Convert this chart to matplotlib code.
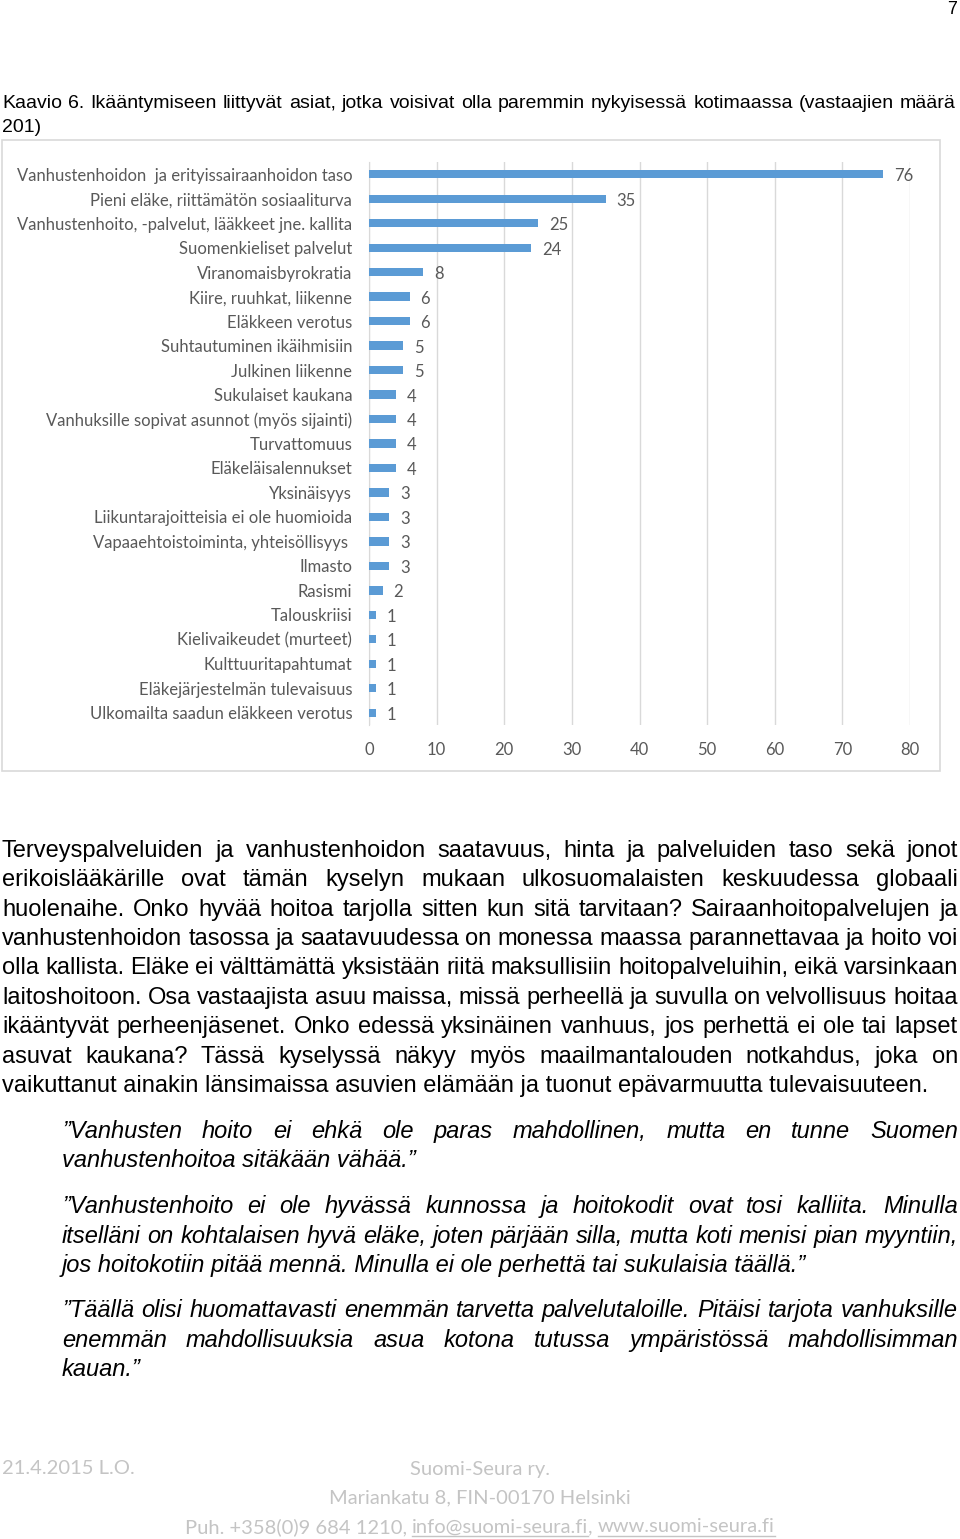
import matplotlib
matplotlib.use("Agg")
import matplotlib.pyplot as plt
from matplotlib.lines import Line2D

# data
categories = [
    "Vanhustenhoidon  ja erityissairaanhoidon taso",
    "Pieni eläke, riittämätön sosiaaliturva",
    "Vanhustenhoito, -palvelut, lääkkeet jne. kallita",
    "Suomenkieliset palvelut",
    "Viranomaisbyrokratia",
    "Kiire, ruuhkat, liikenne",
    "Eläkkeen verotus",
    "Suhtautuminen ikäihmisiin",
    "Julkinen liikenne",
    "Sukulaiset kaukana",
    "Vanhuksille sopivat asunnot (myös sijainti)",
    "Turvattomuus",
    "Eläkeläisalennukset",
    "Yksinäisyys",
    "Liikuntarajoitteisia ei ole huomioida",
    "Vapaaehtoistoiminta, yhteisöllisyys ",
    "Ilmasto",
    "Rasismi",
    "Talouskriisi",
    "Kielivaikeudet (murteet)",
    "Kulttuuritapahtumat",
    "Eläkejärjestelmän tulevaisuus",
    "Ulkomailta saadun eläkkeen verotus",
]
values = [76, 35, 25, 24, 8, 6, 6, 5, 5, 4, 4, 4, 4, 3, 3, 3, 3, 2, 1, 1, 1, 1, 1]
xticks = [0, 10, 20, 30, 40, 50, 60, 70, 80]

title_lines = [
    "Kaavio 6. Ikääntymiseen liittyvät asiat, jotka voisivat olla paremmin nykyisessä kotimaassa (vastaajien määrä",
    "201)",
]

body_lines = [
    "Terveyspalveluiden ja vanhustenhoidon saatavuus, hinta ja palveluiden taso sekä jonot",
    "erikoislääkärille ovat tämän kyselyn mukaan ulkosuomalaisten keskuudessa globaali",
    "huolenaihe. Onko hyvää hoitoa tarjolla sitten kun sitä tarvitaan? Sairaanhoitopalvelujen ja",
    "vanhustenhoidon tasossa ja saatavuudessa on monessa maassa parannettavaa ja hoito voi",
    "olla kallista. Eläke ei välttämättä yksistään riitä maksullisiin hoitopalveluihin, eikä varsinkaan",
    "laitoshoitoon. Osa vastaajista asuu maissa, missä perheellä ja suvulla on velvollisuus hoitaa",
    "ikääntyvät perheenjäsenet. Onko edessä yksinäinen vanhuus, jos perhettä ei ole tai lapset",
    "asuvat kaukana? Tässä kyselyssä näkyy myös maailmantalouden notkahdus, joka on",
    "vaikuttanut ainakin länsimaissa asuvien elämään ja tuonut epävarmuutta tulevaisuuteen.",
]

quotes = [
    ["”Vanhusten hoito ei ehkä ole paras mahdollinen, mutta en tunne Suomen",
     "vanhustenhoitoa sitäkään vähää.”"],
    ["”Vanhustenhoito ei ole hyvässä kunnossa ja hoitokodit ovat tosi kalliita. Minulla",
     "itselläni on kohtalaisen hyvä eläke, joten pärjään silla, mutta koti menisi pian myyntiin,",
     "jos hoitokotiin pitää mennä. Minulla ei ole perhettä tai sukulaisia täällä.”"],
    ["”Täällä olisi huomattavasti enemmän tarvetta palvelutaloille. Pitäisi tarjota vanhuksille",
     "enemmän mahdollisuuksia asua kotona tutussa ympäristössä mahdollisimman",
     "kauan.”"],
]

W, H = 960, 1539
fig = plt.figure(figsize=(W / 100, H / 100), dpi=100)
renderer = fig.canvas.get_renderer()


def fx(x):
    return x / W


def fy(y):
    return 1 - y / H


def put(x, y, s, **kw):
    kw.setdefault("va", "center")
    return fig.text(fx(x), fy(y), s, **kw)


def width_of(t):
    return t.get_window_extent(renderer=renderer).width


def justified(x0, x1, y, line, **kw):
    # lay words out so the line fills x0..x1, all on one baseline
    words = line.split(" ")
    texts = [put(x0, y + 6, w, va="baseline", **kw) for w in words]
    widths = [width_of(t) for t in texts]
    gap = (x1 - x0 - sum(widths)) / max(len(words) - 1, 1)
    x = x0
    for t, w in zip(texts, widths):
        t.set_x(fx(x))
        x += w + gap


# page number
put(952, 10, "7", fontsize=13, family="Liberation Sans", color="black", ha="center")

# title
justified(2, 956, 102, title_lines[0], fontsize=14.0, family="Liberation Sans")
put(2, 127, title_lines[1], fontsize=14.0, family="Liberation Sans")

# chart border
fig.patches.append(plt.Rectangle((fx(2), fy(771)), fx(940) - fx(2), fy(140) - fy(771),
                                 transform=fig.transFigure, fill=False,
                                 edgecolor="#d9d9d9", linewidth=1.2))

# bar chart
ax = fig.add_axes([fx(369), fy(725), fx(910) - fx(369), fy(162) - fy(725)])
ypos = list(range(len(categories)))
ax.barh(ypos, values, height=0.34, color="#5b9bd5", zorder=3)
ax.set_ylim(len(categories) - 0.5, -0.5)
ax.set_xlim(0, 80)
ax.set_xticks(xticks)
ax.set_xticklabels([str(v) for v in xticks])
ax.set_yticks(ypos)
ax.set_yticklabels(categories)
ax.grid(axis="x", color="#d9d9d9", linewidth=1, zorder=0)
for s in ["top", "right", "bottom"]:
    ax.spines[s].set_visible(False)
ax.spines["left"].set_color("#d9d9d9")
ax.tick_params(length=0, labelcolor="#595959", labelsize=12)
ax.tick_params(axis="x", pad=12)
ax.tick_params(axis="y", pad=12)
for lab in ax.get_xticklabels() + ax.get_yticklabels():
    lab.set_family("Lato")
for i, v in enumerate(values):
    ax.annotate(str(v), (v, i), xytext=(11, -2), textcoords="offset pixels",
                va="center", ha="left", color="#595959", fontsize=12, family="Lato")

# body text
body_y = [851, 880, 910, 939, 968, 998, 1027, 1057, 1086]
for i, (y, line) in enumerate(zip(body_y, body_lines)):
    if i < len(body_lines) - 1:
        justified(2, 958, y, line, fontsize=17, family="Liberation Sans")
    else:
        put(2, y + 6, line, fontsize=17, family="Liberation Sans", va="baseline")

# quotes
quote_y = [[1132, 1161], [1207, 1237, 1266], [1311, 1341, 1370]]
for q, ys in zip(quotes, quote_y):
    for j, (line, y) in enumerate(zip(q, ys)):
        kw = dict(fontsize=17, family="Liberation Sans", style="italic")
        if j < len(q) - 1:
            justified(62, 958, y, line, **kw)
        else:
            put(62, y + 6, line, va="baseline", **kw)

# footer
foot = dict(fontsize=14.5, family="Lato", color="#c4c4c4")
put(2, 1469, "21.4.2015 L.O.", **foot)
put(480, 1469, "Suomi-Seura ry.", ha="center", **foot)
put(480, 1498, "Mariankatu 8, FIN-00170 Helsinki", ha="center", **foot)
parts = ["Puh. +358(0)9 684 1210, ", "info@suomi-seura.fi", ", ", "www.suomi-seura.fi"]
pts = [put(0, 1527, p, **foot) for p in parts]
ws = [width_of(t) for t in pts]
x = 480 - sum(ws) / 2
for k, (t, w) in enumerate(zip(pts, ws)):
    t.set_x(fx(x))
    if k in (1, 3):
        fig.lines.append(Line2D([fx(x), fx(x + w)], [fy(1536), fy(1536)],
                                transform=fig.transFigure, color="#c4c4c4", linewidth=1))
    x += w

fig.savefig("out.png", dpi=100)
